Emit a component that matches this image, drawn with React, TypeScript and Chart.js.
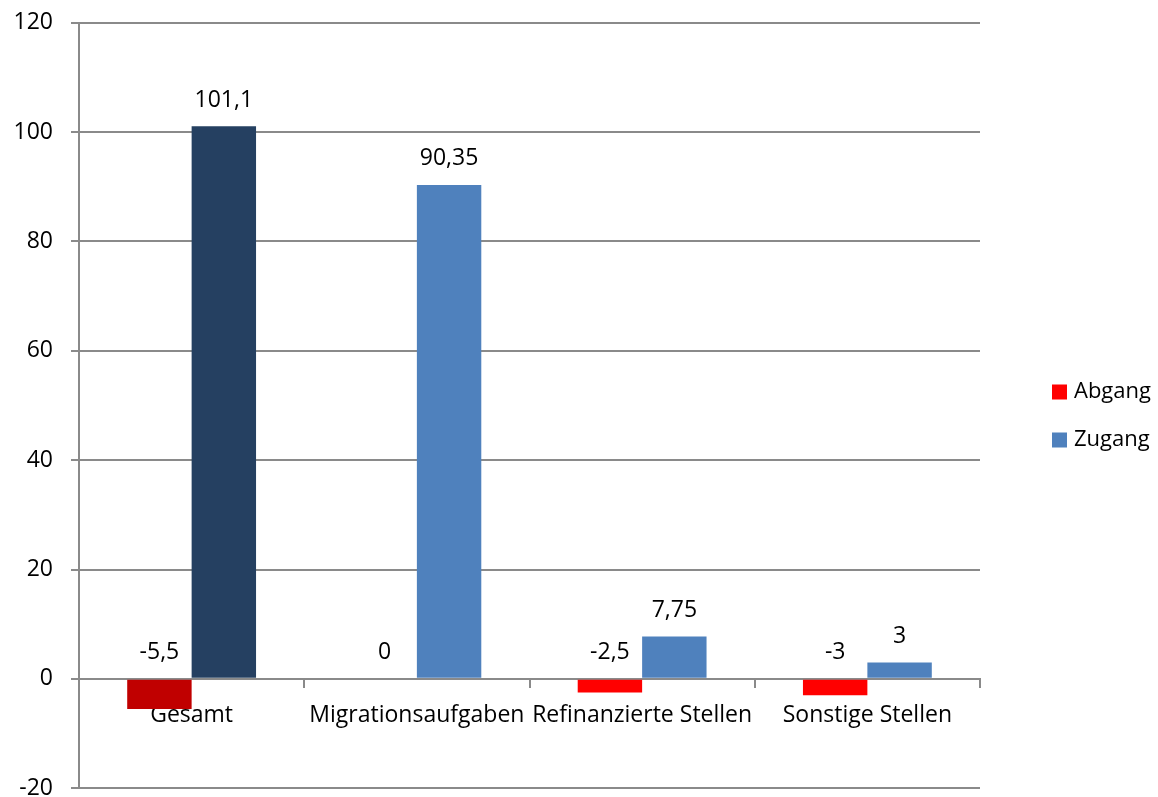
import React, { useEffect, useRef } from 'react';
import { Chart, registerables } from 'chart.js';

Chart.register(...registerables);

const categories = ['Gesamt', 'Migrationsaufgaben', 'Refinanzierte Stellen', 'Sonstige Stellen'];
const seriesNames = ['Abgang', 'Zugang'];
const abgang = [-5.5, 0, -2.5, -3];
const zugang = [101.1, 90.35, 7.75, 3];
const yMin = -20;
const yMax = 120;
const yStep = 20;

const abgangColors = ['#C00000', '#FF0000', '#FF0000', '#FF0000'];
const zugangColors = ['#254061', '#4F81BD', '#4F81BD', '#4F81BD'];
const legendColors = ['#FF0000', '#4F81BD'];
const GRID = '#8a8a8a';
const FONT_FAMILY = '"Open Sans", Lato, sans-serif';
const FONT_SIZE = 23;
const LEGEND_FONT_SIZE = 22;

const fmt = (v: number) => String(v).replace('.', ',');

const dataLabelPlugin = {
  id: 'dataLabels',
  afterDatasetsDraw(chart: any) {
    const ctx = chart.ctx;
    const yScale = chart.scales.y;
    const zero = yScale.getPixelForValue(0);
    ctx.save();
    ctx.font = `${FONT_SIZE}px ${FONT_FAMILY}`;
    ctx.fillStyle = '#000';
    ctx.textAlign = 'center';
    ctx.textBaseline = 'middle';
    chart.data.datasets.forEach((ds: any, di: number) => {
      const meta = chart.getDatasetMeta(di);
      meta.data.forEach((el: any, i: number) => {
        const v = ds.data[i];
        const top = v > 0 ? el.y : zero;
        ctx.fillText(fmt(v), el.x, top - 26);
      });
    });
    ctx.restore();
  },
};

const legendPlugin = {
  id: 'customLegend',
  afterDraw(chart: any) {
    const ctx = chart.ctx;
    const shift = chart.canvas.offsetTop || 0;
    ctx.save();
    ctx.font = `${LEGEND_FONT_SIZE}px ${FONT_FAMILY}`;
    ctx.textBaseline = 'middle';
    ctx.textAlign = 'left';
    const x = 1052;
    const y0 = 392 - shift;
    const gap = 48;
    seriesNames.forEach((name, i) => {
      const cy = y0 + i * gap;
      ctx.fillStyle = legendColors[i];
      ctx.fillRect(x, cy - 7.5, 15, 15);
      ctx.fillStyle = '#000';
      ctx.fillText(name, x + 22, cy);
    });
    ctx.restore();
  },
};

export default function App() {
  const ref = useRef<HTMLCanvasElement | null>(null);

  useEffect(() => {
    if (!ref.current) return;
    const font = { family: FONT_FAMILY, size: FONT_SIZE };
    const chart = new Chart(ref.current, {
      type: 'bar',
      data: {
        labels: categories,
        datasets: [
          { label: seriesNames[0], data: abgang, backgroundColor: abgangColors, borderWidth: 0 },
          { label: seriesNames[1], data: zugang, backgroundColor: zugangColors, borderWidth: 0 },
        ],
      },
      options: {
        responsive: false,
        animation: false,
        devicePixelRatio: 1,
        layout: { padding: { left: 0, right: 178, top: 13, bottom: 11 } },
        datasets: { bar: { categoryPercentage: 0.572, barPercentage: 1 } },
        plugins: { legend: { display: false }, tooltip: { enabled: false } },
        scales: {
          x: {
            position: { y: 0 } as any,
            offset: true,
            grid: { offset: true, drawOnChartArea: false, drawTicks: true, tickLength: 8, color: GRID, lineWidth: 2 },
            border: { display: true, color: GRID, width: 2 },
            ticks: { font, color: '#000', padding: 15, maxRotation: 0, autoSkip: false },
            afterFit: (s: any) => { s.height = 0; },
          } as any,
          y: {
            min: yMin,
            max: yMax,
            ticks: { stepSize: yStep, font, color: '#000', padding: 18 },
            grid: { color: GRID, lineWidth: 2, tickLength: 8 },
            border: { display: true, color: GRID, width: 2 },
            afterFit: (s: any) => { s.width = 79; },
          } as any,
        },
      },
      plugins: [dataLabelPlugin, legendPlugin],
    });
    return () => chart.destroy();
  }, []);

  return (
    <canvas
      ref={ref}
      width={1158}
      height={829}
      style={{ position: 'fixed', left: 0, top: -9, width: 1158, height: 829, display: 'block' }}
    />
  );
}
